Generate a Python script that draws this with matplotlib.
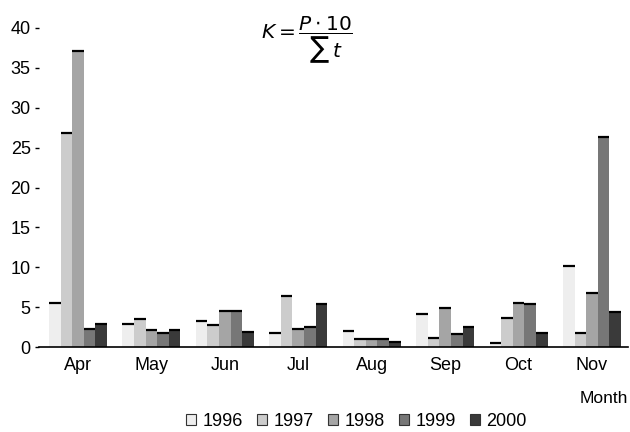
import numpy as np
import matplotlib.pyplot as plt
from matplotlib.patches import Patch

plt.rcParams['font.family'] = ['Liberation Sans', 'DejaVu Sans']

months = ['Apr', 'May', 'Jun', 'Jul', 'Aug', 'Sep', 'Oct', 'Nov']
years = ['1996', '1997', '1998', '1999', '2000']
k_1996 = [5.5, 2.9, 3.3, 1.8, 2.0, 4.1, 0.5, 10.2]
k_1997 = [26.8, 3.5, 2.7, 6.4, 1.0, 1.1, 3.6, 1.8]
k_1998 = [37.1, 2.1, 4.5, 2.3, 1.0, 4.9, 5.5, 6.8]
k_1999 = [2.3, 1.8, 4.5, 2.5, 1.0, 1.6, 5.4, 26.3]
k_2000 = [2.9, 2.1, 1.9, 5.4, 0.6, 2.5, 1.75, 4.4]
colors = ['#eeeeee', '#cccccc', '#a5a5a5', '#777777', '#3a3a3a']

series = [k_1996, k_1997, k_1998, k_1999, k_2000]

fig = plt.figure(figsize=(6.3, 4.32), dpi=100)
ax = fig.add_axes([39/630, 1 - 347/432, (628 - 39)/630, (347 - 28)/432])

x = np.arange(len(months))
w = 0.158
for i, (vals, c) in enumerate(zip(series, colors)):
    pos = x + (i - 2) * w
    ax.bar(pos, vals, width=w, color=c, edgecolor='none', zorder=2)
    # black cap on top of every bar
    ax.hlines(vals, pos - w / 2, pos + w / 2, color='black', lw=1.6, zorder=3)

ax.set_xlim(-0.53, 7.49)
ax.set_ylim(0, 40)
ax.set_yticks(range(0, 41, 5))
ax.set_xticks(x)
ax.set_xticklabels(months)
for s in ['top', 'right', 'left']:
    ax.spines[s].set_visible(False)
ax.spines['bottom'].set_linewidth(1.2)
ax.tick_params(axis='y', length=3, width=1, pad=3, labelsize=13)
ax.tick_params(axis='x', length=0, pad=7, labelsize=13)

ax.text(1.0, -0.162, 'Month', transform=ax.transAxes, ha='right', va='center',
        fontsize=12.5)
ax.text(0.455, 0.965, r'$K = \dfrac{P \cdot 10}{\sum\, t}$', transform=ax.transAxes,
        ha='center', va='center', fontsize=14.5)

handles = [Patch(facecolor=c, edgecolor='#333333', lw=0.8, label=y)
           for c, y in zip(colors, years)]
fig.legend(handles=handles, loc='center', bbox_to_anchor=(0.566, 0.024),
           ncol=5, frameon=False, fontsize=13, handlelength=0.55,
           handleheight=0.55, handletextpad=0.35, columnspacing=0.8,
           borderpad=0, borderaxespad=0)

fig.savefig('out.png', dpi=100)
